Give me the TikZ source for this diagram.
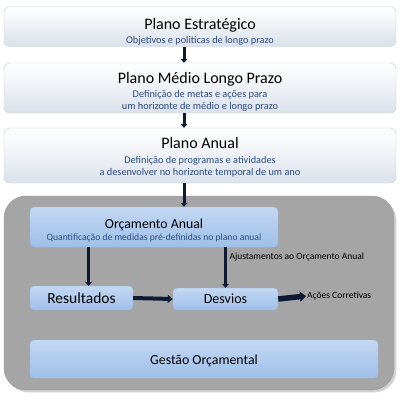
\documentclass[tikz,border=0pt]{standalone}
\usepackage{fontspec}
\setmainfont{Carlito}
\usepackage{xcolor}
\usepackage{tikz}
\usetikzlibrary{arrows.meta,shadows}
\definecolor{navy}{HTML}{0E1A33}
\definecolor{subblue}{HTML}{2E4C80}
\definecolor{planoedge}{HTML}{C3CCDA}
\definecolor{planolow}{HTML}{DCE2EB}
\definecolor{paineltop}{HTML}{A5A5A5}
\definecolor{blueedge}{HTML}{9DB9E0}
\definecolor{bluetop}{HTML}{C3D8F2}
\definecolor{bluelow}{HTML}{9FBFE9}
\newcommand\titfont{\fontsize{16}{18}\selectfont}
\newcommand\subfont{\fontsize{10.3}{13.5}\selectfont\color{subblue}}

\begin{document}
\begin{tikzpicture}[x=1pt,y=-1pt,
plano/.style={draw=planoedge,rounded corners=6pt,top color=white,bottom color=planolow,
  minimum width=392pt,inner sep=0pt,align=center},
caixa/.style={draw=blueedge,rounded corners=4pt,top color=bluetop,bottom color=bluelow,
  inner sep=0pt,align=center},
flow/.style={draw=navy,line width=3pt,-{Triangle[length=4pt,width=7pt]}},
bigflow/.style={draw=navy,line width=5.5pt,-{Triangle[length=6pt,width=10pt]}}]
\useasboundingbox (0,0) rectangle (400,400);
% planos
\node[plano,minimum height=40pt] (estrat) at (200,26.5)
  {\titfont\rule{0pt}{21pt}Plano Estratégico\\[2pt]
   \subfont Objetivos e politicas de longo prazo};
\node[plano,minimum height=50pt] (medio) at (200,88)
  {\titfont\rule{0pt}{18pt}Plano Médio Longo Prazo\\[2pt]
   \subfont Definição de metas e ações para\\
   \subfont um horizonte de médio e longo prazo};
\node[plano,minimum height=55pt] (anual) at (200,155.5)
  {\titfont\rule{0pt}{15pt}Plano Anual\\[3pt]
   \subfont Definição de programas e atividades\\
   \subfont a desenvolver no horizonte temporal de um ano};
% painel
\node[fill=paineltop,draw=gray!80,rounded corners=22pt,drop shadow={opacity=0.35},
  minimum width=390pt,minimum height=194pt] (painel) at (199,293) {};
\node[caixa,minimum width=248pt,minimum height=40pt] (orc) at (154,227)
  {\fontsize{13.8}{15}\selectfont\rule{0pt}{17pt}Orçamento Anual\\
   \fontsize{9.6}{11}\selectfont\color{subblue}Quantificação de medidas pré-definidas no plano anual};
\node[caixa,minimum width=103pt,minimum height=24pt,font=\fontsize{15.5}{17}\selectfont]
  (res) at (81.5,298) {Resultados};
\node[caixa,minimum width=105pt,minimum height=22pt,font=\fontsize{14}{16}\selectfont]
  (desv) at (225.5,299) {Desvios};
\node[caixa,minimum width=348pt,minimum height=38pt,font=\fontsize{13.8}{15}\selectfont]
  (gest) at (204,359) {\rule{0pt}{13pt}Gestão Orçamental};
\node[anchor=west,inner sep=1pt,font=\fontsize{9.5}{11}\selectfont] (acoes) at (306,296)
  {Ações Corretivas};
% setas
\draw[flow] ([xshift=-16pt]estrat.south) -- ([xshift=-16pt]medio.north);
\draw[flow] ([xshift=-16pt]medio.south) -- ([xshift=-16pt]anual.north);
\draw[flow] ([xshift=-16pt]anual.south) -- ([xshift=30pt]orc.north);
\draw[flow] ([xshift=7pt]res.north |- orc.south) -- ([xshift=7pt]res.north);
\draw[flow] (desv.north |- orc.south) -- node[pos=0.24,right,inner sep=2.5pt,
  font=\fontsize{9.5}{11}\selectfont]{Ajustamentos ao Orçamento Anual} (desv.north);
\draw[flow,line width=4pt,-{Triangle[length=5pt,width=8pt]}] (res.east) -- (desv.west);
\draw[bigflow] (desv.east) -- (acoes.west);
\end{tikzpicture}
\end{document}
